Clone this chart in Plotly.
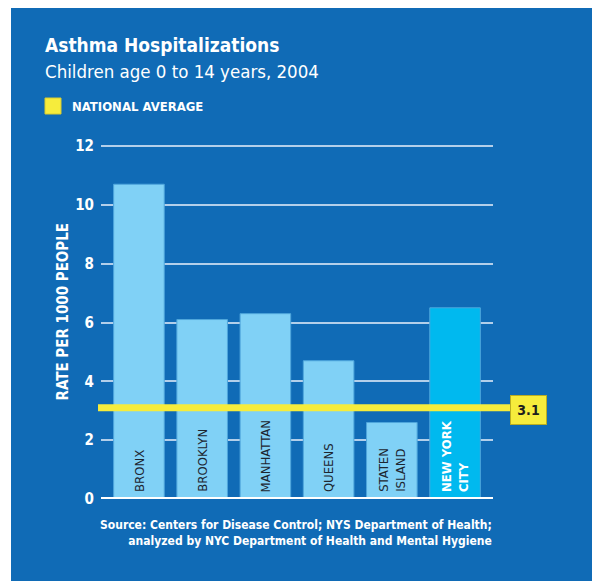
import plotly.graph_objects as go

# Asthma hospitalization rates per 1000 children (age 0-14), 2004
boroughs = ["Bronx", "Brooklyn", "Manhattan", "Queens", "Staten Island", "New York City"]
bar_labels = ["BRONX", "BROOKLYN", "MANHATTAN", "QUEENS", "STATEN<br>ISLAND", "NEW YORK<br>CITY"]
rates = [10.7, 6.1, 6.3, 4.7, 2.6, 6.5]
national_average = 3.1
y_ticks = [0, 2, 4, 6, 8, 10, 12]

BG = "#106bb6"
LIGHT = "#80d1f6"
CITY = "#00b9ef"
YELLOW = "#f6ec3c"
FONT = "DejaVu Sans Condensed, DejaVu Sans, sans-serif"

W, H = 592, 581
ML, MR, MT, MB = 101, 99, 144, 82
PW, PH = W - ML - MR, H - MT - MB
Y_TOP = 12 + 2 / 29.45  # small headroom so the top gridline is drawn


def px(x):
    return (x - ML) / PW


def py(y):
    return (H - MB - y) / PH


colors = [CITY if b == "New York City" else LIGHT for b in boroughs]
label_colors = ["#ffffff" if b == "New York City" else "#1d2630" for b in boroughs]

fig = go.Figure()
fig.add_trace(go.Bar(
    x=boroughs, y=rates, width=0.8,
    marker=dict(color=colors, line=dict(color="#4fa6dc", width=1)),
    hoverinfo="x+y",
))

shapes = [
    # blue panel behind everything
    dict(type="rect", xref="paper", yref="paper", layer="below",
         x0=px(11), x1=px(W + 10), y0=py(H + 10), y1=py(8),
         fillcolor=BG, line=dict(width=0)),
    # baseline
    dict(type="line", xref="paper", yref="y", layer="above",
         x0=0, x1=1, y0=0, y1=0, line=dict(color="white", width=4)),
    # national average line
    dict(type="line", xref="paper", yref="y", layer="above",
         x0=px(98), x1=px(512), y0=national_average, y1=national_average,
         line=dict(color=YELLOW, width=7)),
    # legend swatch
    dict(type="rect", xref="paper", yref="paper",
         x0=px(45), x1=px(61), y0=py(114), y1=py(98),
         fillcolor=YELLOW, line=dict(color="#d8cc30", width=1)),
]

annotations = [
    dict(text="Asthma Hospitalizations", x=px(43), y=py(45), xref="paper", yref="paper",
         xanchor="left", yanchor="middle", showarrow=False,
         font=dict(family=FONT, size=19, weight="bold", color="white")),
    dict(text="Children age 0 to 14 years, 2004", x=px(43), y=py(71), xref="paper", yref="paper",
         xanchor="left", yanchor="middle", showarrow=False,
         font=dict(family=FONT, size=18.5, color="white")),
    dict(text="NATIONAL AVERAGE", x=px(70), y=py(107), xref="paper", yref="paper",
         xanchor="left", yanchor="middle", showarrow=False,
         font=dict(family=FONT, size=13, weight="bold", color="white")),
    dict(text="RATE PER 1000 PEOPLE", x=px(62.5), y=py(312), xref="paper", yref="paper",
         xanchor="center", yanchor="middle", textangle=-90, showarrow=False,
         font=dict(family=FONT, size=15, weight="bold", color="white")),
    dict(text="Source: Centers for Disease Control; NYS Department of Health;<br>"
              "analyzed by NYC Department of Health and Mental Hygiene",
         x=px(494), y=py(533), xref="paper", yref="paper",
         xanchor="right", yanchor="middle", align="right", showarrow=False,
         font=dict(family=FONT, size=12, weight="bold", color="white")),
    dict(text="%.1f" % national_average, x=px(528.5), y=national_average, yshift=-2,
         xref="paper", yref="y", xanchor="center", yanchor="middle", showarrow=False,
         bgcolor=YELLOW, bordercolor="#b9ad22", borderwidth=1, width=33, height=26,
         font=dict(family=FONT, size=14, weight="bold", color="#1d1d1d")),
]

for b, lab, c in zip(boroughs, bar_labels, label_colors):
    annotations.append(dict(
        text=lab,
        x=b, y=0, xref="x", yref="y", yshift=5,
        xanchor="center", yanchor="bottom", textangle=-90, align="left",
        showarrow=False,
        font=dict(family=FONT, size=13, color=c,
                  weight="bold" if c == "#ffffff" else "normal"),
    ))

fig.update_layout(
    width=W, height=H,
    margin=dict(l=ML, r=MR, t=MT, b=MB),
    paper_bgcolor="white", plot_bgcolor=BG,
    showlegend=False,
    shapes=shapes, annotations=annotations,
    xaxis=dict(type="category", range=[-0.6, 5.6], showticklabels=False,
               showgrid=False, zeroline=False, showline=False, fixedrange=True),
    yaxis=dict(range=[0, Y_TOP], tickvals=y_ticks, showgrid=True,
               gridcolor="#b3cfea", gridwidth=1.5, zeroline=False, showline=False,
               ticks="", ticklabelstandoff=6,
               tickfont=dict(family=FONT, size=15, weight="bold", color="white"),
               fixedrange=True),
    bargap=0.2,
)

fig.write_html("out.html")
